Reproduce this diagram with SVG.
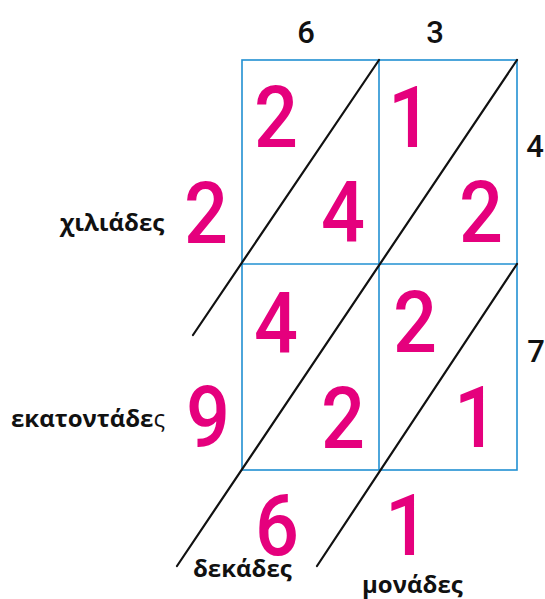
<svg xmlns="http://www.w3.org/2000/svg" width="545" height="599" viewBox="0 0 545 599">
<style>
.grid{fill:none;stroke:#2190d2;stroke-width:1.6}
.diag{stroke:#111;stroke-width:2.2;stroke-linecap:round;fill:none}
.big{font-family:Roboto,"Liberation Sans",sans-serif;font-size:86px;font-weight:500;fill:#e5007d;text-anchor:middle}
.small{font-family:Roboto,"Liberation Sans",sans-serif;font-size:31px;font-weight:500;fill:#111;text-anchor:middle}
.lbl{font-family:"Open Sans","DejaVu Sans",sans-serif;font-size:24px;font-weight:bold;fill:#111}
</style>
<rect width="545" height="599" fill="#fff"/>
<g id="grid">
<rect class="grid" x="242" y="60" width="275" height="410"/>
<line class="grid" x1="379" y1="60" x2="379" y2="470"/>
<line class="grid" x1="242" y1="264" x2="517" y2="264"/>
</g>
<g id="connectors">
<line class="diag" x1="379" y1="60" x2="193" y2="335"/>
<line class="diag" x1="517" y1="60" x2="177" y2="566"/>
<line class="diag" x1="517" y1="264" x2="317" y2="566"/>
</g>
<g id="cell-top-left"><text class="big" transform="translate(276,147) scale(0.9,1)">2</text><text class="big" transform="translate(343,242) scale(0.9,1)">4</text></g>
<g id="cell-top-right"><text class="big" transform="translate(410,147) scale(0.9,1)">1</text><text class="big" transform="translate(481,242) scale(0.9,1)">2</text></g>
<g id="cell-bottom-left"><text class="big" transform="translate(276,353) scale(0.9,1)">4</text><text class="big" transform="translate(343,448) scale(0.9,1)">2</text></g>
<g id="cell-bottom-right"><text class="big" transform="translate(415,352) scale(0.9,1)">2</text><text class="big" transform="translate(476,447) scale(0.9,1)">1</text></g>
<g id="result"><text class="big" transform="translate(206,243) scale(0.9,1)">2</text><text class="big" transform="translate(208,447) scale(0.9,1)">9</text><text class="big" transform="translate(277,555) scale(0.9,1)">6</text><text class="big" transform="translate(407,555) scale(0.9,1)">1</text></g>
<g id="factors"><text class="small" x="306" y="43">6</text><text class="small" x="435" y="43">3</text><text class="small" x="535" y="157">4</text><text class="small" x="536" y="362">7</text></g>
<g id="labels">
<text class="lbl" x="60" y="231">χιλιάδες</text>
<text class="lbl" x="11" y="427">εκατοντάδε<tspan font-weight="normal">ς</tspan></text>
<text class="lbl" x="193" y="577">δεκάδες</text>
<text class="lbl" x="362" y="593">μονάδες</text>
</g>
</svg>
